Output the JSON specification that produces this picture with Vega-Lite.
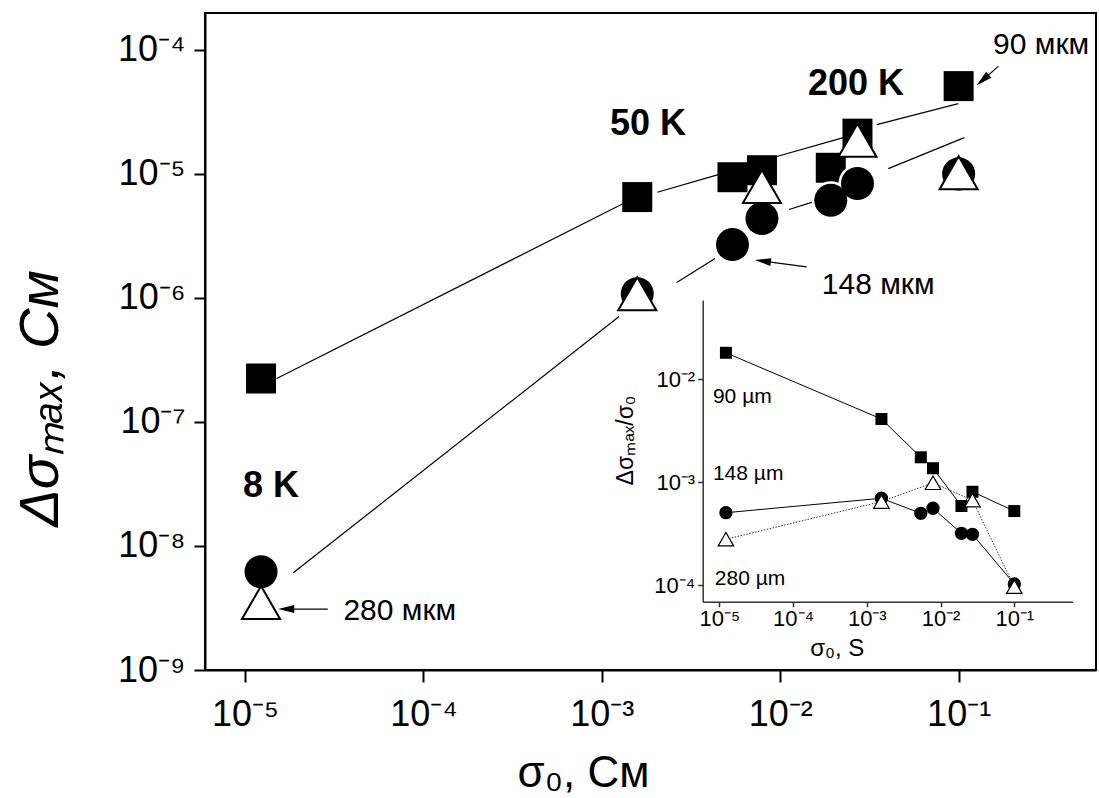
{
  "$schema": "https://vega.github.io/schema/vega-lite/v6.json",
  "width": 891,
  "height": 657,
  "autosize": {"type": "none"},
  "padding": {"left": 205, "top": 13, "right": 3, "bottom": 128},
  "background": "white",
  "config": {
    "view": {"stroke": "black", "strokeWidth": 2},
    "font": "Liberation Sans",
    "axis": {"grid": false, "labelColor": "black", "titleColor": "black", "domainColor": "black", "tickColor": "black", "labelFont": "Liberation Sans", "titleFont": "Liberation Sans", "labelFlush": false, "labelOverlap": false, "labelBound": false, "titleFontWeight": "normal"}
  },
  "datasets": {
    "main": [
      {"series": "sq", "s0": 1.23e-5, "ds": 2.24e-7},
      {"series": "sq", "s0": 1.58e-3, "ds": 6.5e-6},
      {"series": "sq", "s0": 5.4e-3, "ds": 9.4e-6},
      {"series": "sq", "s0": 7.9e-3, "ds": 1.07e-5},
      {"series": "sq", "s0": 0.0192, "ds": 1.12e-5},
      {"series": "sq", "s0": 0.0271, "ds": 2.11e-5},
      {"series": "sq", "s0": 0.1, "ds": 5.1e-5},
      {"series": "ci", "s0": 1.23e-5, "ds": 6.2e-9},
      {"series": "ci", "s0": 1.58e-3, "ds": 1.08e-6},
      {"series": "ci", "s0": 5.4e-3, "ds": 2.69e-6},
      {"series": "ci", "s0": 7.9e-3, "ds": 4.37e-6},
      {"series": "ci", "s0": 0.0192, "ds": 6.12e-6},
      {"series": "ci", "s0": 0.0271, "ds": 8.36e-6},
      {"series": "ci", "s0": 0.1, "ds": 1.0e-5},
      {"series": "tr", "s0": 1.23e-5, "ds": 3.5e-9},
      {"series": "tr", "s0": 1.58e-3, "ds": 1.08e-6},
      {"series": "tr", "s0": 7.9e-3, "ds": 7.9e-6},
      {"series": "tr", "s0": 0.0271, "ds": 1.87e-5},
      {"series": "tr", "s0": 0.1, "ds": 1.02e-5}
    ],
    "segs": [
      {"seg": "u1", "s0": 1.506e-5, "ds": 2.242e-7},
      {"seg": "u1", "s0": 1.320e-3, "ds": 5.763e-6},
      {"seg": "u2", "s0": 2.047e-3, "ds": 7.107e-6},
      {"seg": "u2", "s0": 4.498e-3, "ds": 9.872e-6},
      {"seg": "u3", "s0": 9.35e-3, "ds": 1.368e-5},
      {"seg": "u3", "s0": 0.02258, "ds": 1.961e-5},
      {"seg": "u4", "s0": 0.03475, "ds": 2.496e-5},
      {"seg": "u4", "s0": 0.0996, "ds": 3.685e-5},
      {"seg": "l1", "s0": 1.865e-5, "ds": 6.08e-9},
      {"seg": "l1", "s0": 1.249e-3, "ds": 7.07e-7},
      {"seg": "l2", "s0": 2.629e-3, "ds": 1.331e-6},
      {"seg": "l2", "s0": 4.310e-3, "ds": 2.077e-6},
      {"seg": "l3", "s0": 0.01120, "ds": 5.157e-6},
      {"seg": "l3", "s0": 0.01533, "ds": 5.94e-6},
      {"seg": "l4", "s0": 0.04035, "ds": 1.103e-5},
      {"seg": "l4", "s0": 0.1076, "ds": 1.961e-5}
    ],
    "arrows": [
      {"name": "90", "s0": 0.167, "ds": 7.36e-5, "s0e": 0.1365, "dse": 5.71e-5},
      {"name": "148", "s0": 0.01407, "ds": 1.78e-6, "s0e": 8.0e-3, "dse": 1.98e-6},
      {"name": "280", "s0": 2.91e-5, "ds": 3.1e-9, "s0e": 1.703e-5, "dse": 3.1e-9}
    ],
    "boldlabels": [
      {"label": "8 K", "s0": 9.75e-6, "ds": 2.49e-8},
      {"label": "50 K", "s0": 1.11e-3, "ds": 2.05e-5},
      {"label": "200 K", "s0": 0.01432, "ds": 4.3e-5}
    ],
    "labels": [
      {"label": "90 мкм", "s0": 0.156, "ds": 9.3e-5},
      {"label": "148 мкм", "s0": 0.0171, "ds": 1.08e-6},
      {"label": "280 мкм", "s0": 3.56e-5, "ds": 2.53e-9}
    ],
    "inset": [
      {"series": "sq", "s0": 1.23e-5, "r": 0.0181},
      {"series": "sq", "s0": 1.58e-3, "r": 4.12e-3},
      {"series": "sq", "s0": 5.4e-3, "r": 1.75e-3},
      {"series": "sq", "s0": 7.9e-3, "r": 1.37e-3},
      {"series": "sq", "s0": 0.0192, "r": 5.89e-4},
      {"series": "sq", "s0": 0.0271, "r": 8.1e-4},
      {"series": "sq", "s0": 0.1, "r": 5.26e-4},
      {"series": "ci", "s0": 1.23e-5, "r": 5.07e-4},
      {"series": "ci", "s0": 1.58e-3, "r": 7.0e-4},
      {"series": "ci", "s0": 5.4e-3, "r": 5.0e-4},
      {"series": "ci", "s0": 7.9e-3, "r": 5.6e-4},
      {"series": "ci", "s0": 0.0192, "r": 3.2e-4},
      {"series": "ci", "s0": 0.0271, "r": 3.13e-4},
      {"series": "ci", "s0": 0.1, "r": 1.03e-4},
      {"series": "tr", "s0": 1.23e-5, "r": 2.8e-4},
      {"series": "tr", "s0": 1.58e-3, "r": 6.5e-4},
      {"series": "tr", "s0": 7.9e-3, "r": 9.9e-4},
      {"series": "tr", "s0": 0.0271, "r": 6.7e-4},
      {"series": "tr", "s0": 0.1, "r": 9.7e-5}
    ],
    "insetlabels": [
      {"label": "90 µm", "s0": 8.2e-6, "r": 5.9e-3},
      {"label": "148 µm", "s0": 8.2e-6, "r": 1.05e-3},
      {"label": "280 µm", "s0": 8.7e-6, "r": 1.0e-4}
    ]
  },
  "resolve": {"scale": {"x": "independent", "y": "independent"}, "axis": {"x": "independent", "y": "independent"}},
  "layer": [
    {
      "encoding": {
        "x": {"field": "s0", "type": "quantitative",
          "scale": {"type": "log", "domain": [5.968e-6, 0.5888], "nice": false},
          "axis": {"orient": "bottom", "values": [1e-5, 1e-4, 1e-3, 1e-2, 1e-1],
            "labelExpr": "'10⁻' + ['⁰','¹','²','³','⁴','⁵','⁶','⁷','⁸','⁹'][-round(log(datum.value)/LN10)]",
            "labelFontSize": 36, "tickSize": 12, "tickWidth": 2, "domainWidth": 2, "labelPadding": 15,
            "title": "σ₀, См", "titleFontSize": 44, "titleX": 378, "titleY": 116, "titleAlign": "center", "titleBaseline": "alphabetic"}},
        "y": {"field": "ds", "type": "quantitative",
          "scale": {"type": "log", "domain": [1e-9, 1.982e-4], "nice": false},
          "axis": {"orient": "left", "values": [1e-9, 1e-8, 1e-7, 1e-6, 1e-5, 1e-4],
            "labelExpr": "'10⁻' + ['⁰','¹','²','³','⁴','⁵','⁶','⁷','⁸','⁹'][-round(log(datum.value)/LN10)]",
            "labelFontSize": 36, "tickSize": 11, "tickWidth": 2, "domainWidth": 2, "labelPadding": 9,
            "title": "Δσₘₐₓ, См", "titleFontSize": 56, "titleFontStyle": "italic", "titleAngle": 270, "titleX": -148, "titleY": 385, "titleAlign": "center", "titleBaseline": "alphabetic"}}
      },
      "layer": [
        {"data": {"name": "segs"}, "mark": {"type": "line", "color": "black", "strokeWidth": 1.2}, "encoding": {"detail": {"field": "seg"}}},
        {"data": {"name": "main"}, "transform": [{"filter": "datum.series === 'sq'"}], "mark": {"type": "point", "shape": "square", "filled": true, "color": "black", "size": 900, "opacity": 1}},
        {"data": {"name": "main"}, "transform": [{"filter": "datum.series === 'ci'"}], "mark": {"type": "point", "shape": "circle", "filled": true, "color": "white", "size": 1450, "opacity": 1}},
        {"data": {"name": "main"}, "transform": [{"filter": "datum.series === 'ci'"}], "mark": {"type": "point", "shape": "circle", "filled": true, "color": "black", "size": 1090, "opacity": 1}},
        {"data": {"name": "main"}, "transform": [{"filter": "datum.series === 'tr'"}], "mark": {"type": "point", "shape": "triangle-up", "filled": true, "fill": "white", "stroke": "black", "strokeWidth": 2, "size": 1450, "opacity": 1}},
        {"data": {"name": "arrows"}, "mark": {"type": "rule", "color": "black", "strokeWidth": 1.2}, "encoding": {"x2": {"field": "s0e"}, "y2": {"field": "dse"}}},
        {"data": {"name": "arrows"}, "transform": [{"filter": "datum.name === '90'"}], "mark": {"type": "point", "shape": "M0,-1L0.5,1L-0.5,1Z", "filled": true, "color": "black", "size": 256, "opacity": 1, "angle": 228.7}, "encoding": {"x": {"field": "s0e", "type": "quantitative"}, "y": {"field": "dse", "type": "quantitative"}}},
        {"data": {"name": "arrows"}, "transform": [{"filter": "datum.name === '148'"}], "mark": {"type": "point", "shape": "M0,-1L0.5,1L-0.5,1Z", "filled": true, "color": "black", "size": 256, "opacity": 1, "angle": 277.4}, "encoding": {"x": {"field": "s0e", "type": "quantitative"}, "y": {"field": "dse", "type": "quantitative"}}},
        {"data": {"name": "arrows"}, "transform": [{"filter": "datum.name === '280'"}], "mark": {"type": "point", "shape": "M0,-1L0.5,1L-0.5,1Z", "filled": true, "color": "black", "size": 256, "opacity": 1, "angle": 270}, "encoding": {"x": {"field": "s0e", "type": "quantitative"}, "y": {"field": "dse", "type": "quantitative"}}},
        {"data": {"name": "boldlabels"}, "mark": {"type": "text", "font": "Liberation Sans", "fontSize": 36, "fontWeight": "bold", "align": "left", "baseline": "alphabetic", "color": "black"}, "encoding": {"text": {"field": "label"}}},
        {"data": {"name": "labels"}, "mark": {"type": "text", "font": "Liberation Sans", "fontSize": 30, "align": "left", "baseline": "alphabetic", "color": "black"}, "encoding": {"text": {"field": "label"}}}
      ]
    },
    {
      "encoding": {
        "x": {"field": "s0", "type": "quantitative",
          "scale": {"type": "log", "domain": [5.957e-6, 0.6194], "range": [497.7, 867.7], "nice": false},
          "axis": {"orient": "bottom", "offset": -68.3, "values": [1e-5, 1e-4, 1e-3, 1e-2, 1e-1],
            "labelExpr": "'10⁻' + ['⁰','¹','²','³','⁴','⁵','⁶','⁷','⁸','⁹'][-round(log(datum.value)/LN10)]",
            "labelFontSize": 22, "tickSize": 5, "tickWidth": 1.5, "domainWidth": 1.5, "domainColor": "#333333", "tickColor": "#333333", "labelPadding": 2,
            "title": "σ₀, S", "titleFontSize": 24, "titleX": 631.7, "titleY": 54, "titleAlign": "center", "titleBaseline": "alphabetic"}},
        "y": {"field": "r", "type": "quantitative",
          "scale": {"type": "log", "domain": [6.934e-5, 0.0589], "range": [588.7, 287], "nice": false},
          "axis": {"orient": "left", "offset": -497.7, "values": [1e-4, 1e-3, 1e-2],
            "labelExpr": "'10⁻' + ['⁰','¹','²','³','⁴','⁵','⁶','⁷','⁸','⁹'][-round(log(datum.value)/LN10)]",
            "labelFontSize": 22, "tickSize": 5, "tickWidth": 1.5, "domainWidth": 1.5, "domainColor": "#333333", "tickColor": "#333333", "labelPadding": 3,
            "title": "Δσₘₐₓ/σ₀", "titleFontSize": 23, "titleAngle": 270, "titleX": -70.7, "titleY": 427, "titleAlign": "center", "titleBaseline": "alphabetic"}}
      },
      "layer": [
        {"data": {"name": "inset"}, "transform": [{"filter": "datum.series === 'sq'"}], "mark": {"type": "line", "color": "black", "strokeWidth": 1}},
        {"data": {"name": "inset"}, "transform": [{"filter": "datum.series === 'ci'"}], "mark": {"type": "line", "color": "black", "strokeWidth": 1}},
        {"data": {"name": "inset"}, "transform": [{"filter": "datum.series === 'tr'"}], "mark": {"type": "line", "color": "#333333", "strokeWidth": 1, "strokeDash": [1.5, 1.5]}},
        {"data": {"name": "inset"}, "transform": [{"filter": "datum.series === 'sq'"}], "mark": {"type": "point", "shape": "square", "filled": true, "color": "black", "size": 144, "opacity": 1}},
        {"data": {"name": "inset"}, "transform": [{"filter": "datum.series === 'ci'"}], "mark": {"type": "point", "shape": "circle", "filled": true, "color": "black", "size": 177, "opacity": 1}},
        {"data": {"name": "inset"}, "transform": [{"filter": "datum.series === 'tr'"}], "mark": {"type": "point", "shape": "triangle-up", "filled": true, "fill": "white", "stroke": "black", "strokeWidth": 1.2, "size": 240, "opacity": 1}},
        {"data": {"name": "insetlabels"}, "mark": {"type": "text", "font": "Liberation Sans", "fontSize": 21, "align": "left", "baseline": "alphabetic", "color": "black"}, "encoding": {"text": {"field": "label"}}}
      ]
    }
  ]
}
